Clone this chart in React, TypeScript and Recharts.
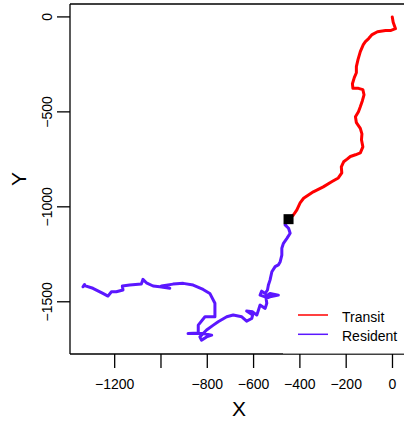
import React from "react";
import {
  ScatterChart,
  Scatter,
  XAxis,
  YAxis,
  ReferenceLine,
} from "recharts";

// track coordinates
const transitX = [-1, 3, 13, -9, -30, -65, -88, -103, -117, -126, -139, -149, -156, -156, -165, -173, -171, -147, -128, -123, -130, -139, -147, -160, -156, -139, -132, -134, -128, -139, -160, -182, -196, -211, -221, -219, -234, -261, -299, -342, -384, -399, -413, -428, -449];
const transitY = [0, -28, -62, -72, -72, -78, -93, -114, -130, -146, -183, -225, -262, -294, -320, -352, -376, -376, -383, -410, -441, -473, -499, -526, -557, -587, -616, -647, -684, -716, -726, -735, -749, -763, -790, -821, -848, -867, -895, -921, -955, -979, -1016, -1043, -1065];

const residentX = [-449, -464, -449, -442, -456, -471, -478, -478, -485, -493, -507, -521, -529, -536, -540, -550, -565, -572, -550, -529, -493, -529, -546, -543, -550, -572, -579, -586, -604, -630, -604, -608, -630, -651, -688, -716, -753, -774, -803, -832, -825, -803, -781, -818, -883, -839, -839, -810, -767, -767, -789, -818, -861, -904, -948, -998, -962, -1005, -1034, -1063, -1078, -1085, -1135, -1167, -1164, -1193, -1214, -1229, -1251, -1294, -1330, -1337, -1330];
const residentY = [-1065, -1095, -1113, -1139, -1166, -1192, -1218, -1254, -1289, -1306, -1315, -1342, -1386, -1412, -1438, -1456, -1444, -1465, -1474, -1456, -1465, -1474, -1482, -1508, -1535, -1517, -1544, -1570, -1553, -1549, -1570, -1588, -1602, -1579, -1570, -1579, -1605, -1623, -1649, -1685, -1702, -1685, -1676, -1667, -1667, -1665, -1623, -1579, -1579, -1508, -1456, -1435, -1412, -1403, -1407, -1417, -1429, -1421, -1417, -1400, -1382, -1407, -1412, -1417, -1438, -1447, -1447, -1470, -1456, -1429, -1415, -1421, -1409];

const startPoint = [{ x: -449, y: -1065 }];

const xTicks = [-1200, -1000, -800, -600, -400, -200, 0];
// R drops the -1000 label (no room), the tick stays
const xHiddenLabels = [-1000];
const yTicks = [0, -500, -1000, -1500];

const legendLabels = ["Transit", "Resident"];

const RED = "#FF0000";
const PURPLE = "#5B17FF";
const FONT = "'Liberation Sans', Arial, Helvetica, sans-serif";

const transit = transitX.map((x, i) => ({ x, y: transitY[i] }));
const resident = residentX.map((x, i) => ({ x, y: residentY[i] }));

const fmt = (v: number) => (v < 0 ? "\u2212" + Math.abs(v) : String(v));

function XTick({ x, y, payload }: any) {
  if (xHiddenLabels.includes(payload.value)) return <g />;
  return (
    <text x={x} y={y} dy={19} textAnchor="middle" fontSize={14} fill="#000" fontFamily={FONT}>
      {fmt(payload.value)}
    </text>
  );
}

function YTick({ x, y, payload }: any) {
  const tx = x - 3;
  return (
    <text
      x={tx}
      y={y}
      textAnchor="middle"
      fontSize={14}
      fill="#000"
      fontFamily={FONT}
      transform={`rotate(-90, ${tx}, ${y})`}
    >
      {fmt(payload.value)}
    </text>
  );
}

const noDot = () => <g />;

const squareDot = ({ cx, cy }: any) => (
  <rect x={cx - 5} y={cy - 5} width={10} height={10} fill="#000" />
);

export default function App() {
  return (
    <div
      style={{
        position: "absolute",
        left: 0,
        top: 0,
        width: 404,
        height: 421,
        overflow: "hidden",
        background: "#fff",
      }}
    >
      <ScatterChart
        width={412}
        height={421}
        margin={{ top: 4, right: 4, bottom: 27, left: 0 }}
      >
        <XAxis
          type="number"
          dataKey="x"
          domain={[-1393, 67]}
          allowDataOverflow
          ticks={xTicks}
          tick={<XTick />}
          tickSize={14}
          height={40}
          axisLine={{ stroke: "#000", strokeWidth: 1.3 }}
          tickLine={{ stroke: "#000", strokeWidth: 1.3 }}
          label={{
            value: "X",
            position: "bottom",
            offset: 7,
            fontSize: 21,
            fill: "#000",
            fontFamily: FONT,
          }}
        />
        <YAxis
          type="number"
          dataKey="y"
          domain={[-1775, 68]}
          allowDataOverflow
          ticks={yTicks}
          tick={<YTick />}
          tickSize={13}
          width={70}
          axisLine={{ stroke: "#000", strokeWidth: 1.3 }}
          tickLine={{ stroke: "#000", strokeWidth: 1.3 }}
          label={({ viewBox }: any) => {
            const lx = viewBox.x + 26;
            const ly = viewBox.y + viewBox.height / 2;
            return (
              <text
                x={lx}
                y={ly}
                textAnchor="middle"
                fontSize={21}
                fill="#000"
                fontFamily={FONT}
                transform={`rotate(-90, ${lx}, ${ly})`}
              >
                Y
              </text>
            );
          }}
        />
        <ReferenceLine y={68} stroke="#000" strokeWidth={1.3} />
        <Scatter
          data={transit}
          line={{ stroke: RED, strokeWidth: 3, strokeLinejoin: "round", strokeLinecap: "round" }}
          shape={noDot}
          isAnimationActive={false}
        />
        <Scatter
          data={resident}
          line={{ stroke: PURPLE, strokeWidth: 3, strokeLinejoin: "round", strokeLinecap: "round" }}
          shape={noDot}
          isAnimationActive={false}
        />
        <Scatter data={startPoint} shape={squareDot} isAnimationActive={false} />
      </ScatterChart>

      {/* legend, white box sits over the frame line like in the original */}
      <svg
        width={121}
        height={61}
        style={{ position: "absolute", left: 283, top: 293 }}
      >
        <rect x={0} y={0} width={121} height={60.5} fill="#fff" />
        {legendLabels.map((name, i) => (
          <g key={name}>
            <line
              x1={15}
              x2={45}
              y1={22 + i * 19.3}
              y2={22 + i * 19.3}
              stroke={i === 0 ? RED : PURPLE}
              strokeWidth={1.5}
            />
            <text x={59} y={28.5 + i * 19.5} fontSize={14} fill="#000" fontFamily={FONT}>
              {name}
            </text>
          </g>
        ))}
      </svg>
    </div>
  );
}
